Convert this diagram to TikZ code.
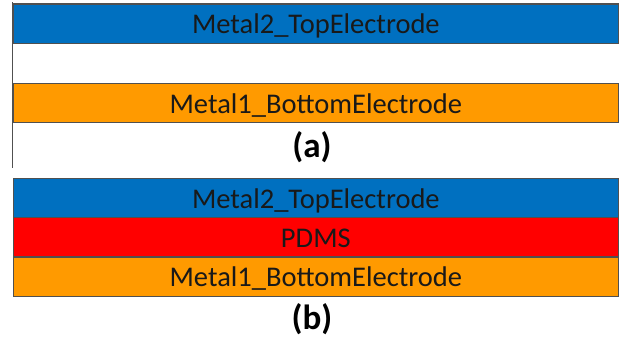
\documentclass[tikz,border=0pt]{standalone}
\usepackage{fontspec}
\setmainfont{Carlito}
\definecolor{topblue}{HTML}{0070C0}
\definecolor{botorange}{HTML}{FF9A00}
\definecolor{pdmsred}{HTML}{FF0000}
\definecolor{edgegray}{HTML}{505050}
\begin{document}
\begin{tikzpicture}[x=1pt,y=-1pt,
  layer/.style={draw=edgegray,line width=1.2pt,minimum width=605.5pt,minimum height=39pt,inner sep=0pt,anchor=north west,text=black!90,text height=23pt,text depth=2.7pt,font=\fontsize{28.5}{30}\selectfont},
  caplabel/.style={font=\bfseries\fontsize{35}{38}\selectfont,inner sep=0pt}]
\useasboundingbox (0,0) rectangle (625,340);
\fill[white] (0,0) rectangle (625,340);
\draw[edgegray,line width=1pt] (12.7,2) -- (12.7,168);
\node[layer,fill=topblue] (topA) at (12.5,3.5) {Metal2\_TopElectrode};
\node[layer,fill=botorange] (botA) at (12.5,83) {Metal1\_BottomElectrode};
\node[caplabel] (capA) at (312,147.5) {(a)};
\node[layer,fill=topblue] (topB) at (12.5,178) {Metal2\_TopElectrode};
\node[layer,fill=pdmsred] (pdms) at (12.5,217) {PDMS};
\node[layer,fill=botorange] (botB) at (12.5,256.5) {Metal1\_BottomElectrode};
\node[caplabel] (capB) at (312,319.5) {(b)};
\end{tikzpicture}
\end{document}
